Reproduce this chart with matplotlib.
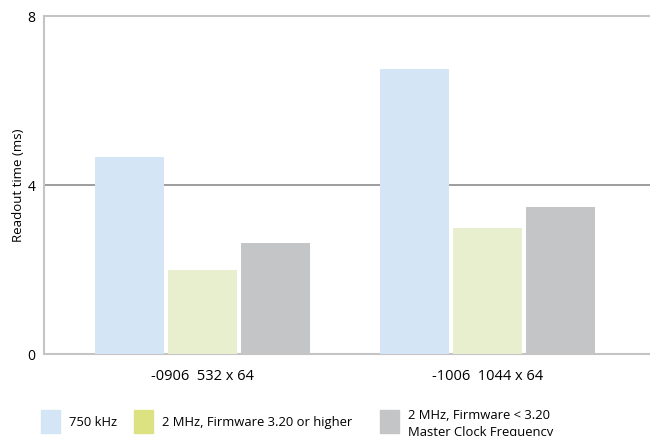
import numpy as np
import matplotlib
matplotlib.use('Agg')
import matplotlib.pyplot as plt
from matplotlib.patches import Rectangle

plt.rcParams['font.family'] = ['Open Sans', 'DejaVu Sans']

# data
categories = ['-0906  532 x 64', '-1006  1044 x 64']
series = ['750 kHz', '2 MHz, Firmware 3.20 or higher',
          '2 MHz, Firmware < 3.20\nMaster Clock Frequency']
values_750k = [4.66, 6.75]
values_2m_new = [1.99, 2.98]
values_2m_old = [2.63, 3.48]

bar_colors = ['#d4e6f5', '#e8efcf', '#c4c5c7']
legend_colors = ['#d4e6f5', '#dce282', '#c4c5c7']

fig = plt.figure(figsize=(6.5, 4.36), dpi=100)
ax = fig.add_axes([44 / 650, 1 - 354 / 436, 1 - 44 / 650, (354 - 16) / 436])

x = np.arange(len(categories))
width = 0.242
step = 0.256
for i, vals in enumerate([values_750k, values_2m_new, values_2m_old]):
    ax.bar(x + (i - 1) * step, vals, width, color=bar_colors[i], zorder=3)

ax.set_xlim(-0.556, 1.570)
ax.set_ylim(0, 8)
ax.set_yticks([0, 4, 8])
ax.set_yticklabels(['0', '4', '8'], fontsize=10)
ax.set_xticks(x)
ax.set_xticklabels(categories, fontsize=10.5)
ax.tick_params(axis='both', length=0, pad=6)
ax.tick_params(axis='x', pad=11)
ax.set_ylabel('Readout time (ms)', fontsize=9.5, labelpad=2)

ax.axhline(4, color='#8c8c8c', lw=1.2, zorder=2)
for side in ['left', 'top', 'bottom']:
    ax.spines[side].set_color('#c4c4c4')
    ax.spines[side].set_linewidth(1.5)
ax.spines['right'].set_visible(False)

# legend drawn along the bottom
legend_x = [41, 134, 380]
for lx, lab, col in zip(legend_x, series, legend_colors):
    fig.patches.append(Rectangle((lx / 650, 1 - 433 / 436), 19 / 650, 23 / 436,
                                 transform=fig.transFigure, color=col))
    if '\n' in lab:
        fig.text((lx + 28) / 650, 1 - 409 / 436, lab, fontsize=9.4,
                 va='top', ha='left', linespacing=1.4)
    else:
        fig.text((lx + 28) / 650, 1 - 422 / 436, lab, fontsize=9.4,
                 va='center', ha='left')

fig.savefig('out.png', dpi=100)
